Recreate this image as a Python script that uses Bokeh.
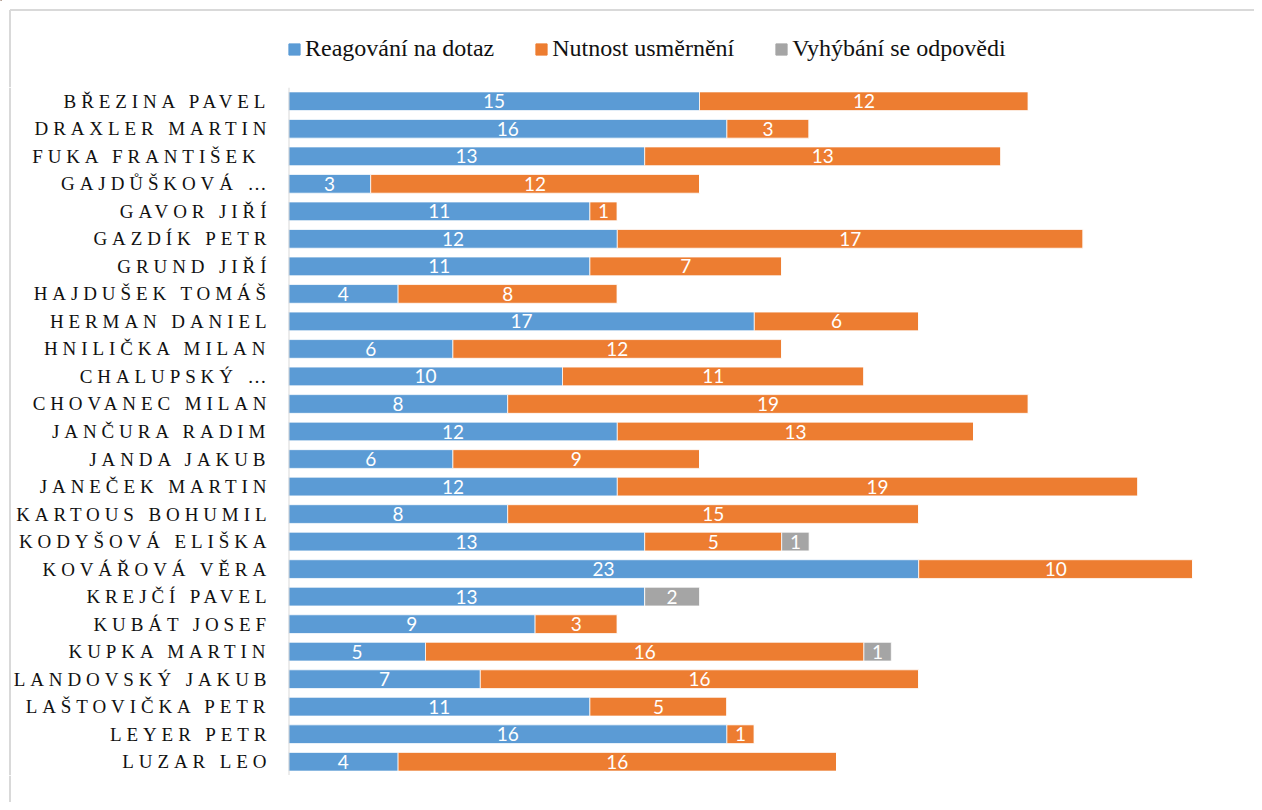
from bokeh.plotting import figure
from bokeh.layouts import column, row
from bokeh.models import ColumnDataSource, Legend, LegendItem, FactorRange, Range1d, Span
from bokeh.core.properties import value
from bokeh.embed import file_html
from bokeh.resources import INLINE

names = ["BŘEZINA PAVEL", "DRAXLER MARTIN", "FUKA FRANTIŠEK ", "GAJDŮŠKOVÁ …", "GAVOR JIŘÍ",
         "GAZDÍK PETR", "GRUND JIŘÍ", "HAJDUŠEK TOMÁŠ", "HERMAN DANIEL", "HNILIČKA MILAN",
         "CHALUPSKÝ …", "CHOVANEC MILAN", "JANČURA RADIM", "JANDA JAKUB", "JANEČEK MARTIN",
         "KARTOUS BOHUMIL", "KODYŠOVÁ ELIŠKA", "KOVÁŘOVÁ VĚRA", "KREJČÍ PAVEL", "KUBÁT JOSEF",
         "KUPKA MARTIN", "LANDOVSKÝ JAKUB", "LAŠTOVIČKA PETR", "LEYER PETR", "LUZAR LEO"]
reagovani = [15, 16, 13, 3, 11, 12, 11, 4, 17, 6, 10, 8, 12, 6, 12, 8, 13, 23, 13, 9, 5, 7, 11, 16, 4]
nutnost = [12, 3, 13, 12, 1, 17, 7, 8, 6, 12, 11, 19, 13, 9, 19, 15, 5, 10, 0, 3, 16, 16, 5, 1, 16]
vyhybani = [0, 0, 0, 0, 0, 0, 0, 0, 0, 0, 0, 0, 0, 0, 0, 0, 1, 0, 2, 0, 1, 0, 0, 0, 0]

series = ["Reagování na dotaz", "Nutnost usměrnění", "Vyhýbání se odpovědi"]
keys = ["reag", "nut", "vyh"]
colors = ["#5B9BD5", "#ED7D31", "#A5A5A5"]
BORDER = "#d9d9d9"
LS = 4.9  # letter spacing of category labels (px)

src = ColumnDataSource(dict(name=names, reag=reagovani, nut=nutnost, vyh=vyhybani))
yr = FactorRange(factors=list(reversed(names)), range_padding=0)

# ---- main bar figure
p = figure(width=966, height=688, output_backend="svg", toolbar_location=None,
           y_range=yr, x_range=(0, 35),
           min_border_left=0, min_border_right=7, min_border_top=0, min_border_bottom=0)
p.hbar_stack(keys, y="name", height=0.68, color=colors, source=src,
             line_color="white", line_width=0.75)

lx, ly, lt = [], [], []
for i, n in enumerate(names):
    left = 0
    for v in (reagovani[i], nutnost[i], vyhybani[i]):
        if v > 0:
            lx.append(left + v / 2)
            ly.append(n)
            lt.append(str(v))
        left += v
p.text(x=lx, y=ly, text=lt, text_color="white", text_align="center", text_baseline="middle",
       text_font=value("Lato"), text_font_size="19px")
p.add_layout(Span(location=0, dimension="height", line_color=BORDER, line_width=2))
p.xaxis.visible = False
p.yaxis.visible = False
p.xgrid.visible = False
p.ygrid.visible = False
p.outline_line_color = None

# ---- category label figure (letter-spaced serif labels drawn as text)
lab = figure(width=288, height=688, output_backend="svg", toolbar_location=None,
             y_range=yr, x_range=(0, 288),
             min_border_left=0, min_border_right=0, min_border_top=0, min_border_bottom=0)
lab.axis.visible = False
lab.grid.visible = False
lab.outline_line_color = None
lsrc = ColumnDataSource(dict(name=names, xr=[288] * len(names),
                             off=[-(22 + (len(n) - 1) * LS) for n in names]))
lab.text(x="xr", y="name", text="name", source=lsrc, x_offset="off",
         text_align="right", text_baseline="middle", text_color="#111111",
         text_font=value("Liberation Serif"), text_font_size="19px")
lab.add_layout(Span(location=9.5, dimension="height", line_color=BORDER, line_width=2))
lab.styles = {"letter-spacing": f"{LS}px"}

# ---- legend figure (top strip, with chart-area border)
lg = figure(width=1254, height=87, output_backend="svg", toolbar_location=None,
            x_range=Range1d(0, 1254), y_range=Range1d(87, 0),
            min_border_left=0, min_border_right=0, min_border_top=0, min_border_bottom=0)
lg.axis.visible = False
lg.grid.visible = False
lg.outline_line_color = None
lg.segment(x0=[9.5, 9.5], y0=[9.5, 9.5], x1=[1254, 9.5], y1=[9.5, 87],
           line_color=BORDER, line_width=2)
items = []
for s, c in zip(series, colors):
    r = lg.hbar(y=[-500], left=[0], right=[1], height=1, color=c)
    items.append(LegendItem(label=s, renderers=[r]))
legend = Legend(items=items, orientation="horizontal", location=(287, 25),
                label_text_font="Liberation Serif", label_text_font_size="24px",
                label_text_color="#111111", glyph_width=14, glyph_height=14,
                label_standoff=4, spacing=40, padding=0, margin=0,
                border_line_color=None, background_fill_alpha=0, label_height=24)
lg.add_layout(legend, "center")

# ---- bottom strip (continues the chart-area border)
bt = figure(width=1254, height=27, output_backend="svg", toolbar_location=None,
            x_range=Range1d(0, 1254), y_range=Range1d(27, 0),
            min_border_left=0, min_border_right=0, min_border_top=0, min_border_bottom=0)
bt.axis.visible = False
bt.grid.visible = False
bt.outline_line_color = None
bt.add_layout(Span(location=9.5, dimension="height", line_color=BORDER, line_width=2))

layout = column(lg, row(lab, p), bt)
open("out.html", "w").write(file_html(layout, INLINE))
